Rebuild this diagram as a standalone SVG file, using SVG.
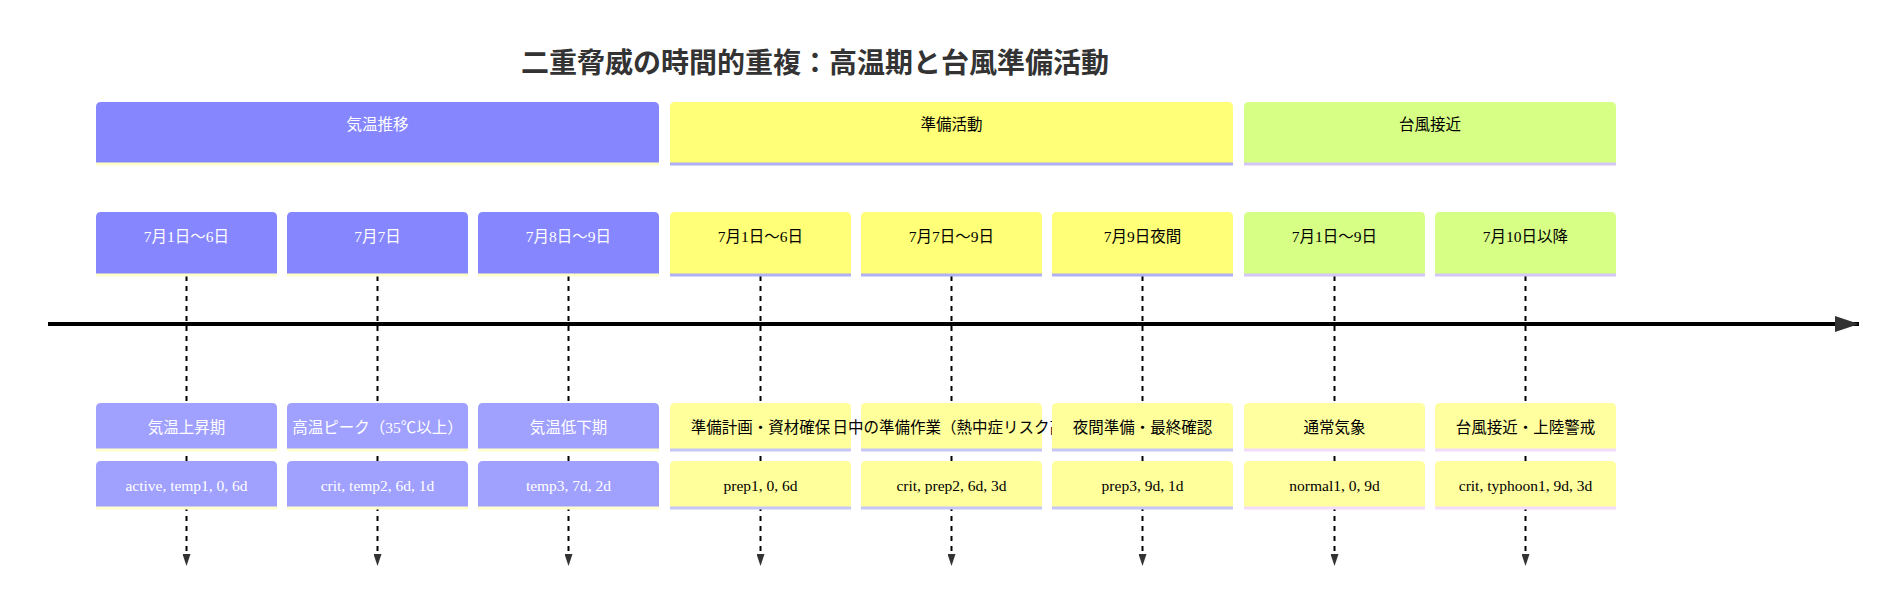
<svg xmlns="http://www.w3.org/2000/svg" width="1904" height="613" viewBox="0 0 1904 613">
<style>
text{font-family:"Liberation Serif","Noto Sans CJK JP",serif;font-size:15.5px;text-anchor:middle}
.title{font-family:"Noto Sans CJK JP","Liberation Sans",sans-serif;font-size:28px;font-weight:bold;fill:#333}
.s0{fill:#8686ff}.s1{fill:#ffff78}.s2{fill:#d7ff86}
.e0{fill:#a0a0ff}.e1{fill:#ffff9c}.e2{fill:#ffffa0}
.t0{fill:#ffffff}.t1{fill:#000000}
.l0{stroke:#ffffc8;stroke-width:3;fill:none}
.l1{stroke:#b0b0f5;stroke-width:3;fill:none}
.l2{stroke:#d4c6f7;stroke-width:3;fill:none}
.le0{stroke:#ffffcc;stroke-width:3;fill:none}
.le1{stroke:#c6c6f7;stroke-width:3;fill:none}
.le2{stroke:#f2dbfb;stroke-width:3;fill:none}
.dash{stroke:#000;stroke-width:2;stroke-dasharray:5,5;fill:none;marker-end:url(#ah)}
.axis{stroke:#000;stroke-width:4;fill:none;marker-end:url(#ah)}
</style>
<defs>
<marker id="ah" viewBox="0 0 6 4" markerWidth="6" markerHeight="4" refX="6" refY="2" orient="auto" markerUnits="strokeWidth">
<path d="M0,0 V4 L6,2 Z" fill="#333"/>
</marker>
</defs>
<rect width="1904" height="613" fill="#fff"/>
<text class="title" x="815" y="73">二重脅威の時間的重複：高温期と台風準備活動</text>

<g id="connectors">
<line class="axis" x1="48" y1="324" x2="1859" y2="324"/>
<line class="dash" x1="186.5" y1="276" x2="186.5" y2="566"/>
<line class="dash" x1="377.5" y1="276" x2="377.5" y2="566"/>
<line class="dash" x1="568.5" y1="276" x2="568.5" y2="566"/>
<line class="dash" x1="760.5" y1="276" x2="760.5" y2="566"/>
<line class="dash" x1="951.5" y1="276" x2="951.5" y2="566"/>
<line class="dash" x1="1142.5" y1="276" x2="1142.5" y2="566"/>
<line class="dash" x1="1334.5" y1="276" x2="1334.5" y2="566"/>
<line class="dash" x1="1525.5" y1="276" x2="1525.5" y2="566"/>
</g>

<g id="section-temp">
<path class="s0" d="M96,164 V107 Q96,102 101,102 H654 Q659,102 659,107 V164 Z"/>
<path class="l0" d="M96,164 H659"/>
<text class="t0" x="377.5" y="130">気温推移</text>
</g>
<g id="section-prep">
<path class="s1" d="M670,164 V107 Q670,102 675,102 H1228 Q1233,102 1233,107 V164 Z"/>
<path class="l1" d="M670,164 H1233"/>
<text class="t1" x="951.5" y="130">準備活動</text>
</g>
<g id="section-typhoon">
<path class="s2" d="M1244,164 V107 Q1244,102 1249,102 H1611 Q1616,102 1616,107 V164 Z"/>
<path class="l2" d="M1244,164 H1616"/>
<text class="t1" x="1430" y="130">台風接近</text>
</g>

<g id="period-t1">
<path class="s0" d="M96,275 V217 Q96,212 101,212 H272 Q277,212 277,217 V275 Z"/>
<path class="l0" d="M96,275 H277"/>
<text class="t0" x="186.5" y="241.5">7月1日～6日</text>
</g>
<g id="period-t2">
<path class="s0" d="M287,275 V217 Q287,212 292,212 H463 Q468,212 468,217 V275 Z"/>
<path class="l0" d="M287,275 H468"/>
<text class="t0" x="377.5" y="241.5">7月7日</text>
</g>
<g id="period-t3">
<path class="s0" d="M478,275 V217 Q478,212 483,212 H654 Q659,212 659,217 V275 Z"/>
<path class="l0" d="M478,275 H659"/>
<text class="t0" x="568.5" y="241.5">7月8日～9日</text>
</g>
<g id="period-p1">
<path class="s1" d="M670,275 V217 Q670,212 675,212 H846 Q851,212 851,217 V275 Z"/>
<path class="l1" d="M670,275 H851"/>
<text class="t1" x="760.5" y="241.5">7月1日～6日</text>
</g>
<g id="period-p2">
<path class="s1" d="M861,275 V217 Q861,212 866,212 H1037 Q1042,212 1042,217 V275 Z"/>
<path class="l1" d="M861,275 H1042"/>
<text class="t1" x="951.5" y="241.5">7月7日～9日</text>
</g>
<g id="period-p3">
<path class="s1" d="M1052,275 V217 Q1052,212 1057,212 H1228 Q1233,212 1233,217 V275 Z"/>
<path class="l1" d="M1052,275 H1233"/>
<text class="t1" x="1142.5" y="241.5">7月9日夜間</text>
</g>
<g id="period-y1">
<path class="s2" d="M1244,275 V217 Q1244,212 1249,212 H1420 Q1425,212 1425,217 V275 Z"/>
<path class="l2" d="M1244,275 H1425"/>
<text class="t1" x="1334.5" y="241.5">7月1日～9日</text>
</g>
<g id="period-y2">
<path class="s2" d="M1435,275 V217 Q1435,212 1440,212 H1611 Q1616,212 1616,217 V275 Z"/>
<path class="l2" d="M1435,275 H1616"/>
<text class="t1" x="1525.5" y="241.5">7月10日以降</text>
</g>

<g id="event-t1a">
<path class="e0" d="M96,450 V408 Q96,403 101,403 H272 Q277,403 277,408 V450 Z"/>
<path class="le0" d="M96,450 H277"/>
<text class="t0" x="186.5" y="433">気温上昇期</text>
</g>
<g id="event-t2a">
<path class="e0" d="M287,450 V408 Q287,403 292,403 H463 Q468,403 468,408 V450 Z"/>
<path class="le0" d="M287,450 H468"/>
<text class="t0" x="377.5" y="433">高温ピーク（35℃以上）</text>
</g>
<g id="event-t3a">
<path class="e0" d="M478,450 V408 Q478,403 483,403 H654 Q659,403 659,408 V450 Z"/>
<path class="le0" d="M478,450 H659"/>
<text class="t0" x="568.5" y="433">気温低下期</text>
</g>
<g id="event-p1a">
<path class="e1" d="M670,450 V408 Q670,403 675,403 H846 Q851,403 851,408 V450 Z"/>
<path class="le1" d="M670,450 H851"/>
<text class="t1" x="760.5" y="433">準備計画・資材確保</text>
</g>
<g id="event-p2a">
<path class="e1" d="M861,450 V408 Q861,403 866,403 H1037 Q1042,403 1042,408 V450 Z"/>
<path class="le1" d="M861,450 H1042"/>
<text class="t1" x="832.5" y="433" style="text-anchor:start">日中の準備作業（熱中症リスク高</text>
</g>
<g id="event-p3a">
<path class="e1" d="M1052,450 V408 Q1052,403 1057,403 H1228 Q1233,403 1233,408 V450 Z"/>
<path class="le1" d="M1052,450 H1233"/>
<text class="t1" x="1142.5" y="433">夜間準備・最終確認</text>
</g>
<g id="event-y1a">
<path class="e2" d="M1244,450 V408 Q1244,403 1249,403 H1420 Q1425,403 1425,408 V450 Z"/>
<path class="le2" d="M1244,450 H1425"/>
<text class="t1" x="1334.5" y="433">通常気象</text>
</g>
<g id="event-y2a">
<path class="e2" d="M1435,450 V408 Q1435,403 1440,403 H1611 Q1616,403 1616,408 V450 Z"/>
<path class="le2" d="M1435,450 H1616"/>
<text class="t1" x="1525.5" y="433">台風接近・上陸警戒</text>
</g>

<g id="event-t1b">
<path class="e0" d="M96,508 V466 Q96,461 101,461 H272 Q277,461 277,466 V508 Z"/>
<path class="le0" d="M96,508 H277"/>
<text class="t0" x="186.5" y="491">active, temp1, 0, 6d</text>
</g>
<g id="event-t2b">
<path class="e0" d="M287,508 V466 Q287,461 292,461 H463 Q468,461 468,466 V508 Z"/>
<path class="le0" d="M287,508 H468"/>
<text class="t0" x="377.5" y="491">crit, temp2, 6d, 1d</text>
</g>
<g id="event-t3b">
<path class="e0" d="M478,508 V466 Q478,461 483,461 H654 Q659,461 659,466 V508 Z"/>
<path class="le0" d="M478,508 H659"/>
<text class="t0" x="568.5" y="491">temp3, 7d, 2d</text>
</g>
<g id="event-p1b">
<path class="e1" d="M670,508 V466 Q670,461 675,461 H846 Q851,461 851,466 V508 Z"/>
<path class="le1" d="M670,508 H851"/>
<text class="t1" x="760.5" y="491">prep1, 0, 6d</text>
</g>
<g id="event-p2b">
<path class="e1" d="M861,508 V466 Q861,461 866,461 H1037 Q1042,461 1042,466 V508 Z"/>
<path class="le1" d="M861,508 H1042"/>
<text class="t1" x="951.5" y="491">crit, prep2, 6d, 3d</text>
</g>
<g id="event-p3b">
<path class="e1" d="M1052,508 V466 Q1052,461 1057,461 H1228 Q1233,461 1233,466 V508 Z"/>
<path class="le1" d="M1052,508 H1233"/>
<text class="t1" x="1142.5" y="491">prep3, 9d, 1d</text>
</g>
<g id="event-y1b">
<path class="e2" d="M1244,508 V466 Q1244,461 1249,461 H1420 Q1425,461 1425,466 V508 Z"/>
<path class="le2" d="M1244,508 H1425"/>
<text class="t1" x="1334.5" y="491">normal1, 0, 9d</text>
</g>
<g id="event-y2b">
<path class="e2" d="M1435,508 V466 Q1435,461 1440,461 H1611 Q1616,461 1616,466 V508 Z"/>
<path class="le2" d="M1435,508 H1616"/>
<text class="t1" x="1525.5" y="491">crit, typhoon1, 9d, 3d</text>
</g>
</svg>
